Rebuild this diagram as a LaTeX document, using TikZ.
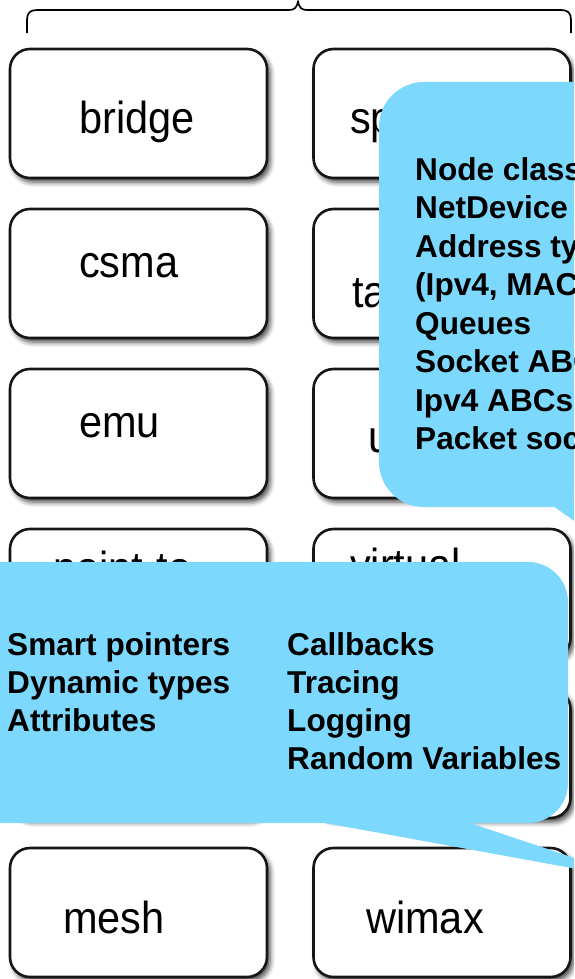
\documentclass[tikz,border=0pt]{standalone}
\usepackage{fontspec}
\setmainfont{Liberation Sans}
\usetikzlibrary{shadows.blur}
\definecolor{calloutblue}{RGB}{125,216,253}
\definecolor{boxline}{RGB}{22,22,22}
\newcommand\tallname[1]{\scalebox{1}[1.08]{#1}}
\tikzset{
  modbox/.style={draw=boxline, line width=2.6pt, fill=white,
    rounded corners=20pt, minimum width=257pt, minimum height=129pt,
    inner sep=0pt, outer sep=0pt,
    blur shadow={shadow xshift=3pt, shadow yshift=-4pt,
      shadow blur radius=5pt, shadow opacity=75}},
  modtext/.style={anchor=base west, inner sep=0pt,
    font=\fontsize{41.5}{41.5}\selectfont},
  notetext/.style={anchor=base west, inner sep=0pt,
    font=\fontsize{31.6}{31.6}\selectfont\bfseries},
  callout/.style={fill=calloutblue, draw=none},
  bracestyle/.style={draw=black, line width=1.7pt, line join=round}
}
\begin{document}
\begin{tikzpicture}[x=1pt, y=-1pt]
\useasboundingbox (0,0) rectangle (574,979);
\clip (0,0) rectangle (574,979);

% brace over both columns
\path[bracestyle] (27,33) -- (27,20) .. controls (27,13) and (30,10) .. (37,10)
  -- (289,10) .. controls (294,10) and (297,8) .. (298,1)
  .. controls (299,8) and (302,10) .. (307,10)
  -- (561,10) .. controls (568,10) and (571,13) .. (571,20) -- (571,33);

% module boxes, two columns by six rows
\node[modbox] (b11) at (138.5,113.5) {};
\node[modbox] (b12) at (442,113.5) {};
\node[modbox] (b21) at (138.5,273.5) {};
\node[modbox] (b22) at (442,273.5) {};
\node[modbox] (b31) at (138.5,433.5) {};
\node[modbox] (b32) at (442,433.5) {};
\node[modbox] (b41) at (138.5,593.5) {};
\node[modbox] (b42) at (442,593.5) {};
\node[modbox] (b51) at (138.5,753.5) {};
\node[modbox] (b52) at (442,753.5) {};
\node[modbox] (b61) at (138.5,912.5) {};
\node[modbox] (b62) at (442,912.5) {};

% module names
\node[modtext] (tbridge) at (79,133) {\tallname{bridge}};
\node[modtext] (tcsma) at (79,277) {\tallname{csma}};
\node[modtext] (temu) at (79,437) {\tallname{emu}};
\node[modtext] (tp2p) at (53,583) {\tallname{point-to}};
\node[modtext] (tmesh) at (63,933) {\tallname{mesh}};
\node[modtext] (tsp) at (350,133) {\tallname{sp}};
\node[modtext] (tta) at (352,307) {\tallname{ta}};
\node[modtext] (tu) at (368,452) {\tallname{u}};
\node[modtext] (tvirt) at (350,580) {\tallname{virtual}};
\node[modtext] (twimax) at (366,933) {\tallname{wimax}};

% upper callout
\path[callout, rounded corners=45pt] (379,82) rectangle (680,507);
\path[callout] (553,506) -- (680,595) -- (680,506) -- cycle;
\node[notetext] (n1) at (415,180) {Node class};
\node[notetext] (n2) at (415,218.5) {NetDevice};
\node[notetext] (n3) at (415,257) {Address ty};
\node[notetext] (n4) at (415,295.5) {(Ipv4, MAC};
\node[notetext] (n5) at (415,334) {Queues};
\node[notetext] (n6) at (415,372.5) {Socket ABC};
\node[notetext] (n7) at (415,411) {Ipv4 ABCs};
\node[notetext] (n8) at (415,449.5) {Packet soc};

% lower callout
\path[callout, rounded corners=40pt] (-80,562) rectangle (568,823);
\path[callout] (314,821) -- (643,881) -- (464,821) -- cycle;
\node[notetext] (c1) at (7,655) {Smart pointers};
\node[notetext] (c2) at (7,693) {Dynamic types};
\node[notetext] (c3) at (7,731) {Attributes};
\node[notetext] (c4) at (287,655) {Callbacks};
\node[notetext] (c5) at (287,693) {Tracing};
\node[notetext] (c6) at (287,731) {Logging};
\node[notetext] (c7) at (287,769) {Random Variables};
\end{tikzpicture}
\end{document}
